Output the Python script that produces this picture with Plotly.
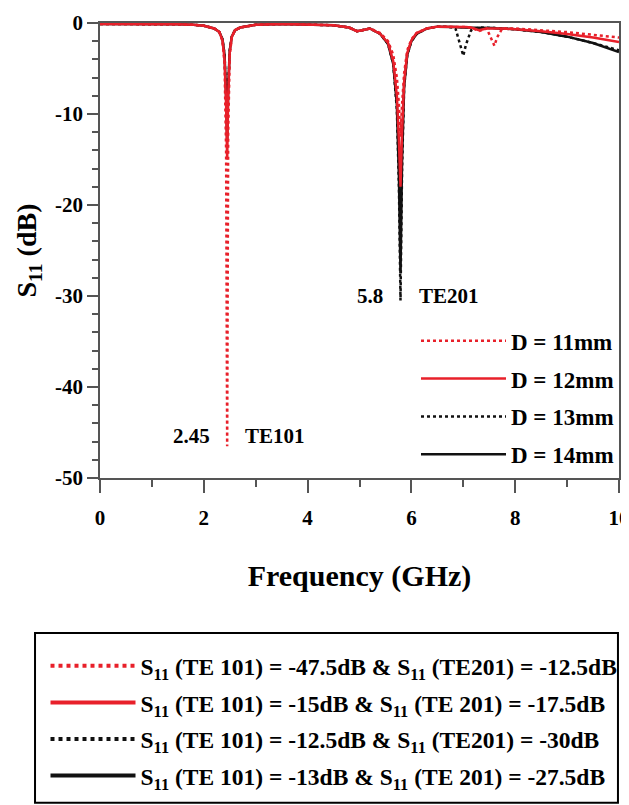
import plotly.graph_objects as go

# ---------------- data ----------------
freq = [0.0, 0.5, 1.0, 1.5, 1.8, 2.0, 2.2, 2.3, 2.36, 2.4, 2.43, 2.45, 2.47, 2.5, 2.54,
        2.6, 2.7, 3.0, 3.5, 4.0, 4.5, 4.8, 4.95, 5.05, 5.2, 5.4, 5.55, 5.65, 5.72, 5.76,
        5.79, 5.82, 5.86, 5.92, 6.0, 6.1, 6.3, 6.5, 6.7, 6.85, 6.95, 7.0, 7.05, 7.15, 7.3,
        7.45, 7.55, 7.6, 7.65, 7.75, 8.0, 8.5, 9.0, 9.5, 10.0]

s11_d11 = [-0.1, -0.1, -0.1, -0.15, -0.2, -0.3, -0.6, -1.0, -2.0, -4.5, -14.0, -46.5, -12.0, -3.5, -1.6,
           -0.8, -0.5, -0.2, -0.1, -0.15, -0.25, -0.5, -0.9, -0.8, -0.6, -1.1, -2.0, -3.5, -6.0, -9.0,
           -12.5, -9.0, -5.5, -3.0, -1.8, -1.1, -0.6, -0.4, -0.4, -0.4, -0.45, -0.45, -0.45, -0.5, -0.9,
           -0.6, -1.8, -2.5, -1.6, -0.6, -0.6, -0.8, -1.0, -1.3, -1.6]
s11_d12 = [-0.1, -0.1, -0.1, -0.15, -0.2, -0.3, -0.6, -1.0, -1.9, -4.0, -9.0, -15.0, -8.0, -3.2, -1.5,
           -0.8, -0.5, -0.2, -0.1, -0.15, -0.25, -0.5, -0.9, -0.8, -0.6, -1.2, -2.2, -4.2, -8.0, -13.0,
           -18.0, -12.0, -6.5, -3.3, -1.9, -1.1, -0.6, -0.4, -0.4, -0.4, -0.45, -0.45, -0.45, -0.5, -0.8,
           -0.6, -0.6, -0.6, -0.6, -0.6, -0.7, -0.9, -1.2, -1.6, -2.1]
s11_d13 = [-0.1, -0.1, -0.1, -0.15, -0.2, -0.3, -0.6, -1.0, -1.8, -3.5, -8.0, -12.5, -7.0, -3.0, -1.5,
           -0.8, -0.5, -0.2, -0.1, -0.15, -0.25, -0.5, -0.9, -0.8, -0.6, -1.2, -2.3, -4.5, -9.5, -18.0,
           -30.5, -16.0, -7.0, -3.5, -2.0, -1.2, -0.6, -0.4, -0.4, -0.6, -2.5, -3.6, -2.4, -0.8, -0.5,
           -0.5, -0.55, -0.55, -0.6, -0.6, -0.7, -1.0, -1.5, -2.2, -3.0]
s11_d14 = [-0.1, -0.1, -0.1, -0.15, -0.2, -0.3, -0.6, -1.0, -1.8, -3.5, -8.0, -13.0, -7.0, -3.0, -1.5,
           -0.8, -0.5, -0.2, -0.1, -0.15, -0.25, -0.5, -0.9, -0.8, -0.6, -1.2, -2.3, -4.5, -9.0, -17.0,
           -27.5, -15.0, -7.0, -3.5, -2.0, -1.2, -0.6, -0.4, -0.4, -0.45, -0.5, -0.5, -0.5, -0.5, -0.5,
           -0.5, -0.55, -0.55, -0.6, -0.6, -0.7, -1.0, -1.5, -2.2, -3.2]

series_names = ["D = 11mm", "D = 12mm", "D = 13mm", "D = 14mm"]
summary_texts = [
    "S<sub>11</sub> (TE 101) = -47.5dB & S<sub>11</sub> (TE201) = -12.5dB",
    "S<sub>11</sub> (TE 101) = -15dB & S<sub>11</sub> (TE 201) = -17.5dB",
    "S<sub>11</sub> (TE 101) = -12.5dB & S<sub>11</sub> (TE201) = -30dB",
    "S<sub>11</sub> (TE 101) = -13dB & S<sub>11</sub> (TE 201) = -27.5dB",
]
mode_labels = [(2.45, "2.45", "TE101", -45.4), (5.8, "5.8", "TE201", -30.0)]

x_ticks = [0, 2, 4, 6, 8, 10]
y_ticks = [0, -10, -20, -30, -40, -50]

RED = "#e8202a"
BLACK = "#111111"
FONT = "Liberation Serif"
styles = [
    dict(color=RED, dash="dot", width=2.5),
    dict(color=RED, dash="solid", width=2.5),
    dict(color=BLACK, dash="dot", width=2.5),
    dict(color=BLACK, dash="solid", width=2.5),
]
all_values = [s11_d11, s11_d12, s11_d13, s11_d14]

fig = go.Figure()

# draw black first, red on top; legend ranks keep D=11 first
for i in [3, 2, 1, 0]:
    fig.add_trace(go.Scatter(
        x=freq, y=all_values[i], mode="lines", name=series_names[i],
        line=styles[i], legend="legend", legendrank=i + 1, legendgroup="g%d" % i,
    ))

# summary legend below (legend-only entries)
for i in range(4):
    fig.add_trace(go.Scatter(
        x=[None], y=[None], mode="lines", name=summary_texts[i],
        line=dict(color=styles[i]["color"], dash=styles[i]["dash"], width=4),
        legend="legend2", legendrank=i + 1, legendgroup="h%d" % i,
    ))

# mode labels
for xv, left, right, yv in mode_labels:
    fig.add_annotation(x=xv - 0.3, y=yv, text=left, showarrow=False, xanchor="right",
                       font=dict(family=FONT, size=21, color="black", weight="bold"))
    fig.add_annotation(x=xv + 0.3, y=yv, text=right, showarrow=False, xanchor="left",
                       font=dict(family=FONT, size=21, color="black", weight="bold"))

# box around the summary legend
fig.add_shape(type="rect", xref="paper", yref="paper",
              x0=-0.1252, x1=0.998, y0=-0.714, y1=-0.3407,
              line=dict(color="black", width=2))

axis_common = dict(showline=True, linecolor="#555", linewidth=1.5, mirror=True,
                   ticks="outside", tickcolor="#555", tickwidth=1.5,
                   showgrid=False, zeroline=False, automargin=False,
                   ticklabeloverflow="allow",
                   tickfont=dict(family=FONT, size=21, color="black", weight="bold"))

fig.update_xaxes(range=[0, 10], tickvals=x_ticks, ticktext=[str(v) for v in x_ticks],
                 ticklen=13, ticklabelstandoff=7,
                 minor=dict(ticks="outside", dtick=1, ticklen=7, tickcolor="#555"),
                 title=dict(text="Frequency (GHz)", standoff=36,
                            font=dict(family=FONT, size=30, color="black", weight="bold")),
                 **axis_common)
fig.update_yaxes(range=[-50, 0], tickvals=y_ticks, ticktext=[str(v) for v in y_ticks],
                 ticklen=11,
                 minor=dict(ticks="outside", dtick=2, ticklen=6, tickcolor="#555"),
                 title=dict(text="S<sub>11</sub> (dB)", standoff=10,
                            font=dict(family=FONT, size=28, color="black", weight="bold")),
                 **axis_common)

fig.update_layout(
    width=629, height=797,
    margin=dict(l=92, r=18, t=15, b=327, autoexpand=False),
    plot_bgcolor="white", paper_bgcolor="white",
    showlegend=True,
    legend=dict(x=1.0, xanchor="right", y=0.349, yanchor="top",
                bgcolor="rgba(255,255,255,0)", itemwidth=85, tracegroupgap=5,
                font=dict(family=FONT, size=23, color="black", weight="bold")),
    legend2=dict(x=-0.105, xanchor="left", y=-0.365, yanchor="top",
                 bgcolor="rgba(255,255,255,0)", itemwidth=85, tracegroupgap=3,
                 font=dict(family=FONT, size=23.5, color="black", weight="bold")),
)

fig.write_html("out.html")
